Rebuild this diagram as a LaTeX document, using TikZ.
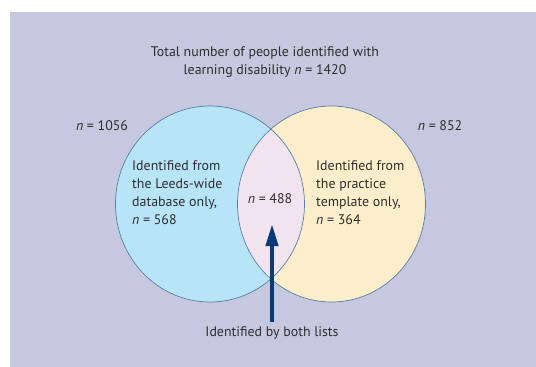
\documentclass[tikz,border=0pt]{standalone}
\usepackage{fontspec}
\setmainfont{PT Sans}
\usetikzlibrary{arrows.meta}
\definecolor{bgc}{HTML}{C5C8DE}
\definecolor{leftc}{HTML}{B8E4F8}
\definecolor{rightc}{HTML}{FDEECB}
\definecolor{midc}{HTML}{F1E4EF}
\definecolor{edgec}{HTML}{5A7EA8}
\definecolor{arrowc}{HTML}{0B3A78}
\definecolor{txtc}{HTML}{2E2E2E}
\begin{document}
\begin{tikzpicture}[x=1pt,y=-1pt,
  lbl/.style={text=txtc,font=\fontsize{13.9}{18}\selectfont,inner sep=0pt},
  blk/.style={lbl,align=left,anchor=north west},
  circ/.style={draw=edgec,line width=0.7pt}]
\useasboundingbox (0,0) rectangle (536,367);
\fill[bgc] (10,12) rectangle (536,367);
% circles
\fill[leftc] (210,204) ellipse [x radius=94.5,y radius=98];
\fill[rightc] (331.5,204) ellipse [x radius=94,y radius=98];
\begin{scope}
  \clip (210,204) ellipse [x radius=94.5,y radius=98];
  \fill[midc] (331.5,204) ellipse [x radius=94,y radius=98];
\end{scope}
\draw[circ] (210,204) ellipse [x radius=94.5,y radius=98];
\draw[circ] (331.5,204) ellipse [x radius=94,y radius=98];
% texts
\node[lbl,align=center] (title) at (265,62) {Total number of people identified with\\learning disability \textit{n} = 1420};
\node[lbl] (nleft) at (102,126) {\textit{n} = 1056};
\node[lbl] (nright) at (440,126) {\textit{n} = 852};
\node[blk] (lefttxt) at (132,160) {Identified from\\the Leeds-wide\\database only,\\\textit{n} = 568};
\node[blk] (righttxt) at (316,160) {Identified from\\the practice\\template only,\\\textit{n} = 364};
\node[lbl] (mid) at (270,199) {\textit{n} = 488};
\node[lbl] (both) at (272,333) {Identified by both lists};
\coordinate (abot) at (272,322);
\coordinate (atip) at (272,224);
\draw[arrowc,line width=4pt,-{Triangle[width=12pt,length=22pt]}] (abot) -- (atip);
\end{tikzpicture}
\end{document}
